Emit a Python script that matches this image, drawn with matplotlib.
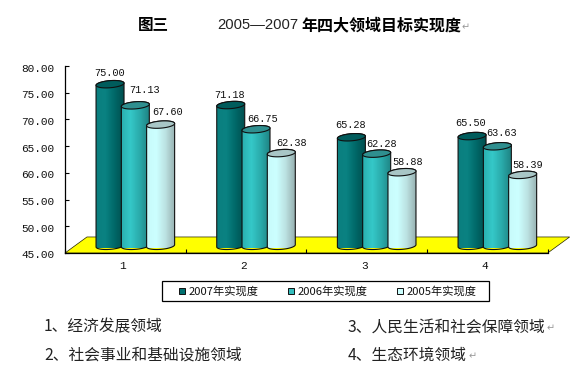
import numpy as np
import matplotlib
matplotlib.use('Agg')
import matplotlib.pyplot as plt
from matplotlib.colors import LinearSegmentedColormap
from matplotlib.patches import Polygon, Rectangle
from matplotlib.transforms import ScaledTranslation

plt.rcParams['font.family'] = ['Noto Sans CJK SC', 'DejaVu Sans']

# Data
categories = ['1', '2', '3', '4']
series_names = ['2007年实现度', '2006年实现度', '2005年实现度']
values_2007 = [75.00, 71.18, 65.28, 65.50]
values_2006 = [71.13, 66.75, 62.28, 63.63]
values_2005 = [67.60, 62.38, 58.88, 58.39]
y_ticks = [45, 50, 55, 60, 65, 70, 75, 80]
notes_left = ['1、经济发展领域', '2、社会事业和基础设施领域']
notes_right = ['3、人民生活和社会保障领域', '4、生态环境领域']

W, H = 580, 371
MONO = 'Liberation Mono'

# body gradient (left to right) and top cap colour of each series
styles = [
    (['#0b7f7f', '#0a8282', '#006868', '#004f4f'], '#005c5c', '#006f6f'),
    (['#2ab0b0', '#35c8c8', '#2aabab', '#1f8585'], '#2f8f8f', '#33bdbd'),
    (['#c8fbfb', '#ccffff', '#bce2e2', '#98b2b2'], '#a8c6c6', '#ccffff'),
]
# label offsets from the top of each bar, in pixels
label_dx = [[0, 9, 7], [-1, 7, 10], [-1, 4.5, 5.5], [-2, 4.5, 5]]
label_dy = [[11.5, 15.5, 12.5], [10, 10.5, 10], [12.5, 9.5, 10.5], [13.5, 13.5, 9.5]]


def px_axes(fig, x0, x1, y_top, y_bot):
    return fig.add_axes([x0 / W, 1 - y_bot / H, (x1 - x0) / W, (y_bot - y_top) / H])


fig = plt.figure(figsize=(W / 100, H / 100), dpi=100, facecolor='white')

# Axes with floor, ticks and tick labels
ax = px_axes(fig, 65, 547.7, 66, 253)
ax.set_xlim(0.5, 4.5)
ax.set_ylim(45, 80)
ax.patch.set_visible(False)
for s in ['top', 'right']:
    ax.spines[s].set_visible(False)
for s in ['left', 'bottom']:
    ax.spines[s].set_linewidth(0.9)
    ax.spines[s].set_zorder(5)

floor = Polygon([(0.5, 45), (0.682, 48), (4.682, 48), (4.5, 45)], closed=True,
                facecolor='#ffff00', edgecolor='#222200', linewidth=0.5, clip_on=False)
ax.add_patch(floor)

ax.set_yticks(y_ticks)
ax.set_yticklabels(['%.2f' % t for t in y_ticks], fontfamily=MONO, fontsize=8.0, color='#111111')
ax.tick_params(axis='y', direction='in', length=3, width=0.8, pad=7.5)
ax.set_xticks([0.5, 1.5, 2.5, 3.5, 4.5])
ax.set_xticklabels([])
ax.tick_params(axis='x', which='major', direction='in', length=3, width=0.8)
ax.set_xticks([1, 2, 3, 4], minor=True)
ax.set_xticklabels(categories, minor=True, fontfamily=MONO, fontsize=8.0, color='#111111')
ax.tick_params(axis='x', which='minor', length=0, pad=6)
for lab in ax.get_yticklabels():
    lab.set_transform(lab.get_transform() + ScaledTranslation(0, -0.015, fig.dpi_scale_trans))
for lab in ax.get_xticklabels(minor=True):
    lab.set_transform(lab.get_transform() + ScaledTranslation(-0.025, 0, fig.dpi_scale_trans))

# Cylinders sit in a second axes, shifted by the 3D depth
bx = px_axes(fig, 75, 557.7, 56.9, 248)
bx.set_xlim(0.5, 4.5)
bx.set_ylim(45, 80)
bx.axis('off')
bx.patch.set_visible(False)

bar_w = 28 / 120.7
bar_step = 25.3 / 120.7
base = 45.4
cap_h = 0.65
cap_tilt = 0.2
t = np.linspace(0, 2 * np.pi, 73)


def ring(cx, cy, t):
    return (cx + bar_w / 2 * np.cos(t),
            cy + cap_h * np.sin(t) + cap_tilt * np.cos(t))


all_values = [values_2007, values_2006, values_2005]
for s, vals in enumerate(all_values):
    colors, cap, _ = styles[s]
    cmap = LinearSegmentedColormap.from_list('c%d' % s, colors)
    grad = np.linspace(0, 1, 64).reshape(1, -1)
    for g, v in enumerate(vals):
        cx = g + 1 + (s - 1) * bar_step
        z = 3 + s
        # body outline: bottom half of base ring, then top half edge back
        bt = np.linspace(np.pi, 2 * np.pi, 37)
        xb, yb = ring(cx, base, bt)
        tt = np.linspace(0, np.pi, 37)
        xt, yt = ring(cx, v, tt)
        pts = np.column_stack([np.r_[xb, xt], np.r_[yb, yt]])
        body = Polygon(pts, closed=True, facecolor='none', edgecolor='#101010',
                       linewidth=0.8, zorder=z + 0.2, clip_on=False)
        im = bx.imshow(grad, cmap=cmap, extent=(cx - bar_w / 2, cx + bar_w / 2, base - 1, v + 1),
                       aspect='auto', interpolation='bilinear', zorder=z)
        bx.add_patch(body)
        clip = Polygon(pts, closed=True, transform=bx.transData)
        im.set_clip_path(clip)
        xc, yc = ring(cx, v, t)
        bx.fill(xc, yc, facecolor=cap, edgecolor='#101010', linewidth=0.8,
                zorder=z + 0.3, clip_on=False)
        bx.annotate('%.2f' % v, (cx, v),
                    xytext=(label_dx[g][s] * 0.72, label_dy[g][s] * 0.72),
                    textcoords='offset points', ha='center', va='center',
                    fontfamily=MONO, fontsize=7.4, color='#111111', zorder=10,
                    annotation_clip=False)
bx.set_xlim(0.5, 4.5)
bx.set_ylim(45, 80)

# Overlay in pixel coordinates for title, legend and notes
ov = fig.add_axes([0, 0, 1, 1], zorder=20)
ov.set_xlim(0, W)
ov.set_ylim(H, 0)
ov.axis('off')
ov.patch.set_visible(False)

ov.text(138, 25, '图三', fontsize=11.2, fontweight='bold', color='black', va='center')
ov.text(217, 25, '2005—2007', fontfamily='Liberation Sans', fontsize=10.6, color='#222222', va='center')
ov.text(301, 25, '年四大领域目标实现度', fontsize=11.5, fontweight='bold', color='black', va='center')
ov.text(462, 27, '↵', fontfamily='DejaVu Sans', fontsize=7, color='#999999', va='center')

# legend box
ov.add_patch(Rectangle((162.3, 281.3), 327, 20, facecolor='white', edgecolor='black', linewidth=0.9))
swatch_x = [178.5, 287.5, 396.5]
text_x = [188.5, 298, 407]
for i, name in enumerate(series_names):
    ov.add_patch(Rectangle((swatch_x[i], 288), 6, 6, facecolor=styles[i][2],
                           edgecolor='#101010', linewidth=0.7))
    ov.text(text_x[i], 291, name, fontsize=8.1, color='#111111', va='center')

for y, txt in zip([327, 355], notes_left):
    ov.text(44, y, txt, fontsize=11.3, color='#222222', va='center')
mark_x = [547, 469]
for y, txt, mx in zip([327, 355], notes_right, mark_x):
    ov.text(348, y, txt, fontsize=11.3, color='#222222', va='center')
    ov.text(mx, y + 1, '↵', fontfamily='DejaVu Sans', fontsize=7, color='#999999', va='center')

fig.savefig('out.png', dpi=100)
